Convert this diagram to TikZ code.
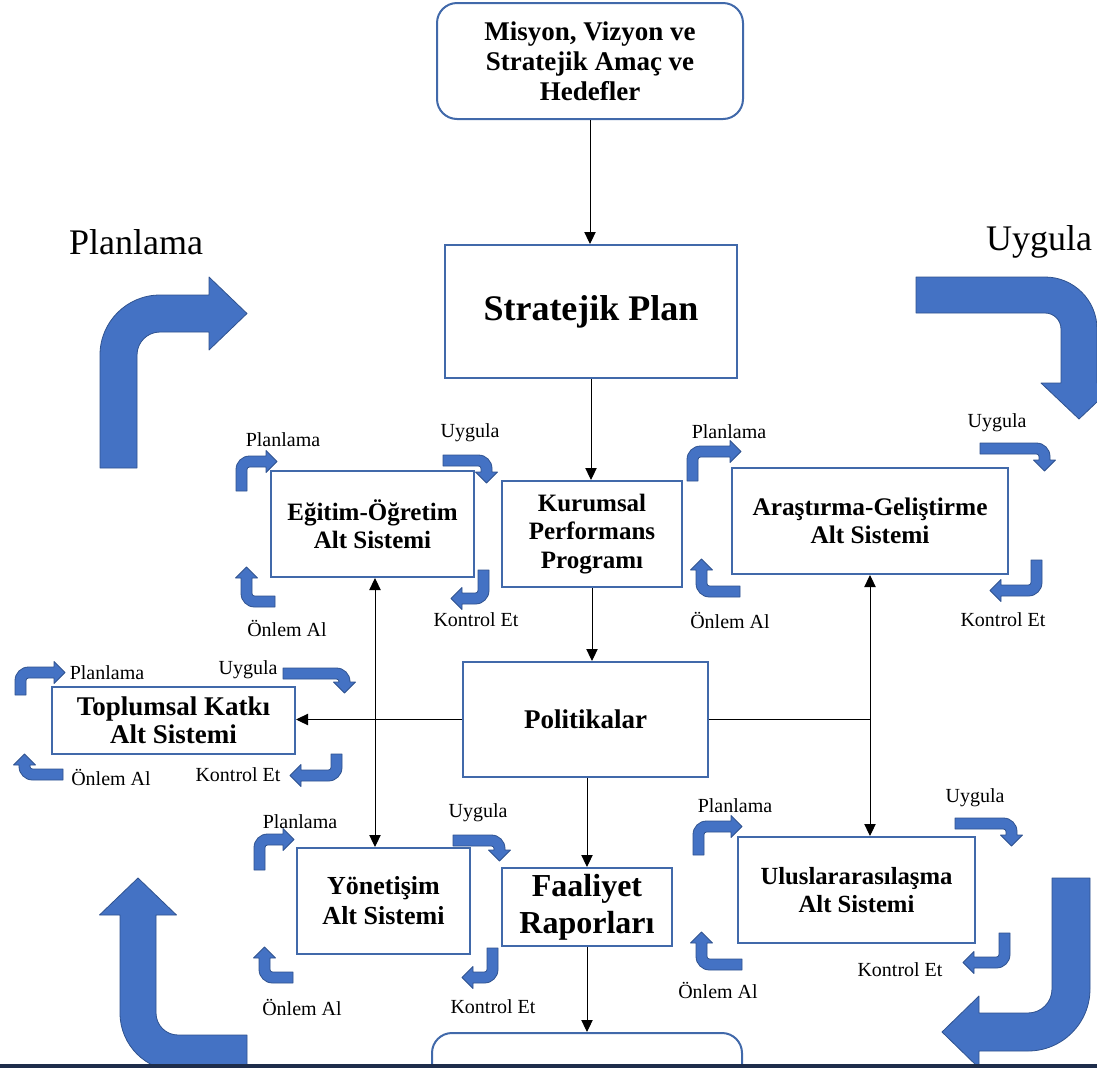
\documentclass[tikz,border=0pt]{standalone}
\usepackage{fontspec}
\setmainfont{Liberation Serif}
\usetikzlibrary{arrows.meta}
\definecolor{boxblue}{RGB}{65,105,170}
\definecolor{arrfillc}{RGB}{68,114,196}
\definecolor{arredge}{RGB}{47,82,143}
\definecolor{navyband}{RGB}{30,45,75}
\tikzset{
 box/.style={draw=boxblue, line width=1.5pt, fill=white, align=center, inner sep=0pt},
 dims/.style 2 args={minimum width=#1*0.75pt, minimum height=#2*0.75pt},
 fs/.style 2 args={font=\bfseries\fontsize{#1}{#2}\selectfont},
 conn/.style={line width=0.75pt, -{Triangle[length=9pt,width=8.5pt]}},
 conntwo/.style={line width=0.75pt, {Triangle[length=9pt,width=8.5pt]}-{Triangle[length=9pt,width=8.5pt]}},
 plainline/.style={line width=0.75pt},
 lbl/.style={font=\fontsize{15}{17}\selectfont, inner sep=0pt},
 biglbl/.style={font=\fontsize{27}{30}\selectfont, inner sep=0pt},
 arrfill/.style={fill=arrfillc, draw=arredge, line width=0.6pt, line join=round},
}
% #1 x, #2 y (pixels, downward), #3 rotation, #4 thickness, #5 Hs, #6 W, #7 head length, #8 head width, #9 outer radius
\newcommand{\bentarr}[9]{%
\begin{scope}[shift={(#1,-#2)},rotate=#3]
\filldraw[arrfill] (0,0) -- (0,{#5-#9}) arc[start angle=180,end angle=90,radius=#9]
 -- ({#6-#7},#5) -- ({#6-#7},{#5-#4/2+#8/2}) -- (#6,{#5-#4/2}) -- ({#6-#7},{#5-#4/2-#8/2})
 -- ({#6-#7},{#5-#4}) -- (#9,{#5-#4}) arc[start angle=90,end angle=180,radius={#9-#4}]
 -- (#4,0) -- cycle;
\end{scope}}
\newcommand{\smarr}[5]{\bentarr{#1}{#2}{#3}{11}{#4}{#5}{11}{22}{13.5}}
\begin{document}
\begin{tikzpicture}[x=0.75pt,y=0.75pt]
\useasboundingbox (0,0) rectangle (1097,-1068);
\fill[white] (0,0) rectangle (1097,-1068);
\clip (0,0) rectangle (1097,-1068);

% big cycle arrows
\bentarr{100}{468}{0}{37}{173}{147}{38}{73}{60}
\bentarr{916}{277}{-90}{36}{181}{142}{36}{76}{52}
\bentarr{247}{1071}{90}{36}{127}{193}{37}{77}{58}
\bentarr{1090}{878}{180}{38}{173}{148}{37}{72}{62}
\node[biglbl] (bigplan) at (136,-242) {Planlama};
\node[biglbl] (biguyg) at (1039,-242) {Uygula};

% boxes
\node[box, rounded corners=15pt, dims={306}{116}, fs={20.25pt}{22.5pt}] (mis) at (590,-61) {Misyon, Vizyon ve\\Stratejik Amaç ve\\Hedefler};
\node[box, dims={292}{133}, fs={27pt}{30pt}] (sp) at (591,-311.5) {Stratejik Plan};
\node[box, dims={180}{106}, fs={18.75pt}{21.4pt}] (kpp) at (592,-534) {Kurumsal\\Performans\\Programı};
\node[box, dims={245}{115}, fs={20.25pt}{23pt}] (pol) at (585.5,-719.5) {Politikalar};
\node[box, dims={170}{78}, fs={24pt}{27.5pt}] (fr) at (587,-907) {Faaliyet\\Raporları};
\node[box, dims={203}{106}, fs={18.75pt}{21pt}] (eg) at (372.5,-524) {Eğitim-Öğretim\\Alt Sistemi};
\node[box, dims={276}{106}, fs={19pt}{21.4pt}] (ag) at (870,-521) {Araştırma-Geliştirme\\Alt Sistemi};
\node[box, dims={243}{67}, fs={20.25pt}{21pt}] (tk) at (173.5,-720.5) {Toplumsal Katkı\\Alt Sistemi};
\node[box, dims={173}{106}, fs={19.5pt}{22.5pt}] (yon) at (383.5,-901) {Yönetişim\\Alt Sistemi};
\node[box, dims={237}{106}, fs={18.5pt}{21pt}] (ui) at (856.5,-890) {Uluslararasılaşma\\Alt Sistemi};
\node[box, rounded corners=15pt, dims={310}{94}] (bot) at (587,-1080) {};

% connectors
\draw[conn] (mis.south) -- (mis.south |- sp.north);
\draw[conn] (sp.south) -- (sp.south |- kpp.north);
\draw[conn] (kpp.south) -- (kpp.south |- pol.north);
\draw[conn] (pol.south -| fr.north) -- (fr.north);
\draw[conn] (fr.south) -- (fr.south |- bot.north);
\draw[conn] (pol.west) -- (pol.west -| tk.east);
\coordinate (j) at (pol.east -| ag.south);
\draw[plainline] (pol.east) -- (j);
\draw[conn] (j) -- (ag.south);
\draw[conn] (j) -- (j |- ui.north);
\coordinate (vx) at (375,0);
\draw[conntwo] (eg.south -| vx) -- (yon.north -| vx);

% small cycle arrows: Egitim
\smarr{236}{491}{0}{35}{41}
\smarr{443}{455}{-90}{49}{28}
\smarr{489}{570}{180}{34}{38}
\smarr{275}{607}{90}{34}{40}
\node[lbl] (egp) at (283,-440) {Planlama};
\node[lbl] (egu) at (470,-433) {Uygula};
\node[lbl] (egk) at (476,-620) {Kontrol Et};
\node[lbl] (ego) at (287,-628) {Önlem Al};
% Arastirma
\smarr{687}{481}{0}{35}{54}
\smarr{980}{443}{-90}{70}{28}
\smarr{1042}{560}{180}{36}{52}
\smarr{740}{597}{90}{44}{38}
\node[lbl] (agp) at (729,-432) {Planlama};
\node[lbl] (agu) at (997,-423) {Uygula};
\node[lbl] (agk) at (1003,-620) {Kontrol Et};
\node[lbl] (ago) at (730,-620) {Önlem Al};
% Toplumsal
\smarr{15}{695}{0}{28}{50}
\smarr{283}{668}{-90}{67}{25}
\smarr{342}{754}{180}{27}{52}
\smarr{63}{780}{90}{44}{26}
\node[lbl] (tkp) at (107,-673) {Planlama};
\node[lbl] (tku) at (248,-670) {Uygula};
\node[lbl] (tkk) at (238,-775) {Kontrol Et};
\node[lbl] (tko) at (111,-777) {Önlem Al};
% Yonetisim
\smarr{254}{870}{0}{36}{40}
\smarr{453}{835}{-90}{52}{26}
\smarr{498}{948}{180}{35}{36}
\smarr{293}{983}{90}{34}{36}
\node[lbl] (yop) at (300,-822) {Planlama};
\node[lbl] (you) at (478,-813) {Uygula};
\node[lbl] (yok) at (493,-1007) {Kontrol Et};
\node[lbl] (yoo) at (302,-1007) {Önlem Al};
% Uluslararasilasma
\smarr{693}{855}{0}{34}{49}
\smarr{955}{818}{-90}{62}{28}
\smarr{1010}{933}{180}{35}{47}
\smarr{742}{970}{90}{46}{38}
\node[lbl] (uip) at (735,-806) {Planlama};
\node[lbl] (uiu) at (975,-798) {Uygula};
\node[lbl] (uik) at (900,-970) {Kontrol Et};
\node[lbl] (uio) at (718,-990) {Önlem Al};

\fill[navyband] (0,-1064) rectangle (1097,-1068);
\end{tikzpicture}
\end{document}
